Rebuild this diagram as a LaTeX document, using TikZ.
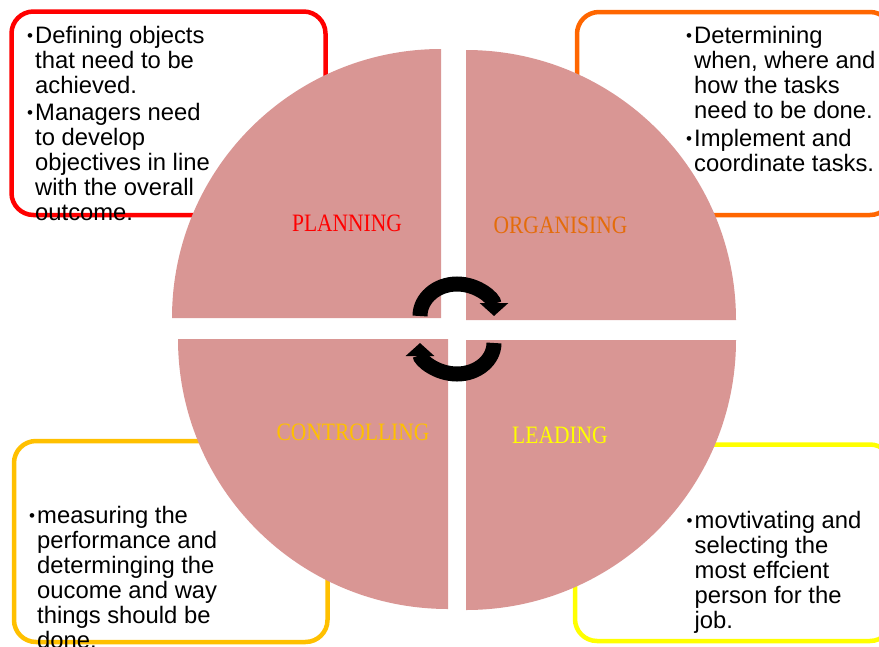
\documentclass[tikz,border=0pt]{standalone}
\usepackage{fontspec}
\setmainfont{Liberation Sans}
\newfontfamily\labelfont[FakeStretch=0.86]{Liberation Serif}
\usetikzlibrary{arrows.meta}

\definecolor{petal}{HTML}{D99694}
\definecolor{planred}{HTML}{FF0000}
\definecolor{orgline}{HTML}{FF6600}
\definecolor{orgtext}{HTML}{E46C0A}
\definecolor{ctrlgold}{HTML}{FFC000}
\definecolor{leadyellow}{HTML}{FFFF00}

% one bulleted item, lines broken by hand
\newcommand{\bul}[1]{\makebox[10pt][l]{\hspace{2pt}\raisebox{2pt}{\fontsize{17}{17}\selectfont\textbullet}}%
  \parbox[t]{280pt}{#1}}

\tikzset{
  frame/.style={line width=4.5pt, rounded corners=22pt, fill=white},
  quarter/.style={fill=petal},
  cyc/.style={line width=15pt, -{Triangle[length=13pt,width=28pt]}},
  txt/.style={font=\fontsize{23.8}{25}\selectfont, inner sep=0pt, anchor=base west},
  stage/.style={font=\labelfont\fontsize{25}{25}\selectfont, inner sep=0pt, anchor=base}
}

\begin{document}
\begin{tikzpicture}[x=1pt,y=-1pt]
                \useasboundingbox (0,0) rectangle (879,646);
                \clip (0,0) rectangle (879,646);
                % boxes behind the wheel
                \draw[frame, draw=planred] (11.5,11.5) rectangle (325.5,215);
                \draw[frame, draw=orgline] (577,12) rectangle (892,215);
                \draw[frame, draw=ctrlgold] (14,441) rectangle (327.5,642);
                \draw[frame, draw=leadyellow] (575,444.5) rectangle (892,641);
                % the four quarters
                \coordinate (pc) at (441,318);
                \coordinate (oc) at (466,320);
                \coordinate (cc) at (448,339);
                \coordinate (lc) at (466,340);
                \fill[quarter] (pc) -- ++(-269,0) arc[start angle=180, end angle=270, radius=269] -- cycle;
                \fill[quarter] (oc) -- ++(0,-270) arc[start angle=270, end angle=360, radius=270] -- cycle;
                \fill[quarter] (lc) -- ++(270,0) arc[start angle=0, end angle=90, radius=270] -- cycle;
                \fill[quarter] (cc) -- ++(0,270) arc[start angle=90, end angle=180, radius=270] -- cycle;
                % turning arrows
                \draw[cyc] (420,316) arc[start angle=180, end angle=360, x radius=37, y radius=32];
                \draw[cyc] (494,343) arc[start angle=0, end angle=180, x radius=37, y radius=31];
                % stage names
                \node[stage, text=planred] (plan) at (347,231.7) {PLANNING};
                \node[stage, text=orgtext] (org) at (560.5,233.3) {ORGANISING};
                \node[stage, text=ctrlgold] (ctrl) at (353,440.7) {CONTROLLING};
                \node[stage, text=leadyellow] (lead) at (560,443.3) {LEADING};
                % notes
                \node[txt] (plannote1) at (25,43.3) {\bul{Defining objects\\that need to be\\achieved.}};
                \node[txt] (plannote2) at (25,120.7) {\bul{Managers need\\to develop\\objectives in line\\with the overall\\outcome.}};
                \node[txt] (orgnote1) at (684,43.3) {\bul{Determining\\when, where and\\how the tasks\\need to be done.}};
                \node[txt] (orgnote2) at (684,146) {\bul{Implement and\\coordinate tasks.}};
                \node[txt] (ctrlnote) at (27,523.3) {\bul{measuring the\\performance and\\determinging the\\oucome and way\\things should be\\done.}};
                \node[txt] (leadnote) at (684.5,528.3) {\bul{movtivating and\\selecting the\\most effcient\\person for the\\job.}};
            \end{tikzpicture}
\end{document}
